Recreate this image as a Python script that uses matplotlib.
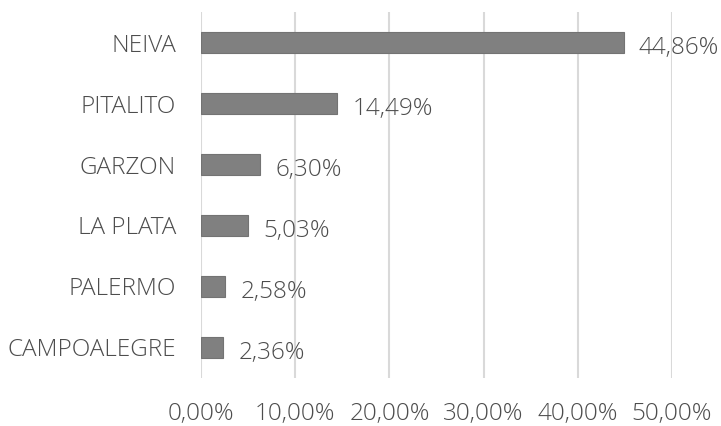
import matplotlib.pyplot as plt
from matplotlib.ticker import FuncFormatter

# Data
municipios = ['NEIVA', 'PITALITO', 'GARZON', 'LA PLATA', 'PALERMO', 'CAMPOALEGRE']
porcentajes = [44.86, 14.49, 6.30, 5.03, 2.58, 2.36]

text_color = '#4d4d4d'
plt.rcParams['font.family'] = ['Open Sans', 'DejaVu Sans']
plt.rcParams['font.weight'] = 'light'

fig = plt.figure(figsize=(7.21, 4.26), dpi=100)
ax = fig.add_axes([0.2788, 0.1127, 0.932 - 0.2788, 0.9718 - 0.1127])

# Plot bars, top category first
y = list(range(len(municipios)))
ax.barh(y, porcentajes, height=0.36, color='#808080', edgecolor='#737373', linewidth=0.8, zorder=3)

# Value labels
for yi, v in zip(y, porcentajes):
    ax.annotate(f'{v:.2f}%'.replace('.', ','), (v, yi), xytext=(11, -1.5), textcoords='offset points',
                va='center_baseline', ha='left', fontsize=17.5, color=text_color, fontweight='light')

ax.set_xlim(0, 50)
ax.set_ylim(5.5, -0.5)
ax.set_xticks([0, 10, 20, 30, 40, 50])
ax.xaxis.set_major_formatter(FuncFormatter(lambda x, p: f'{x:.2f}%'.replace('.', ',')))
ax.set_yticks(y)
ax.set_yticklabels(municipios, va='center_baseline')

ax.grid(axis='x', color='#d9d9d9', linewidth=1.5, zorder=0)
for s in ax.spines.values():
    s.set_visible(False)
ax.tick_params(axis='both', length=0, labelsize=17.5, labelcolor=text_color)
ax.tick_params(axis='y', pad=18)
ax.tick_params(axis='x', pad=17)

fig.savefig('out.png', dpi=100)
